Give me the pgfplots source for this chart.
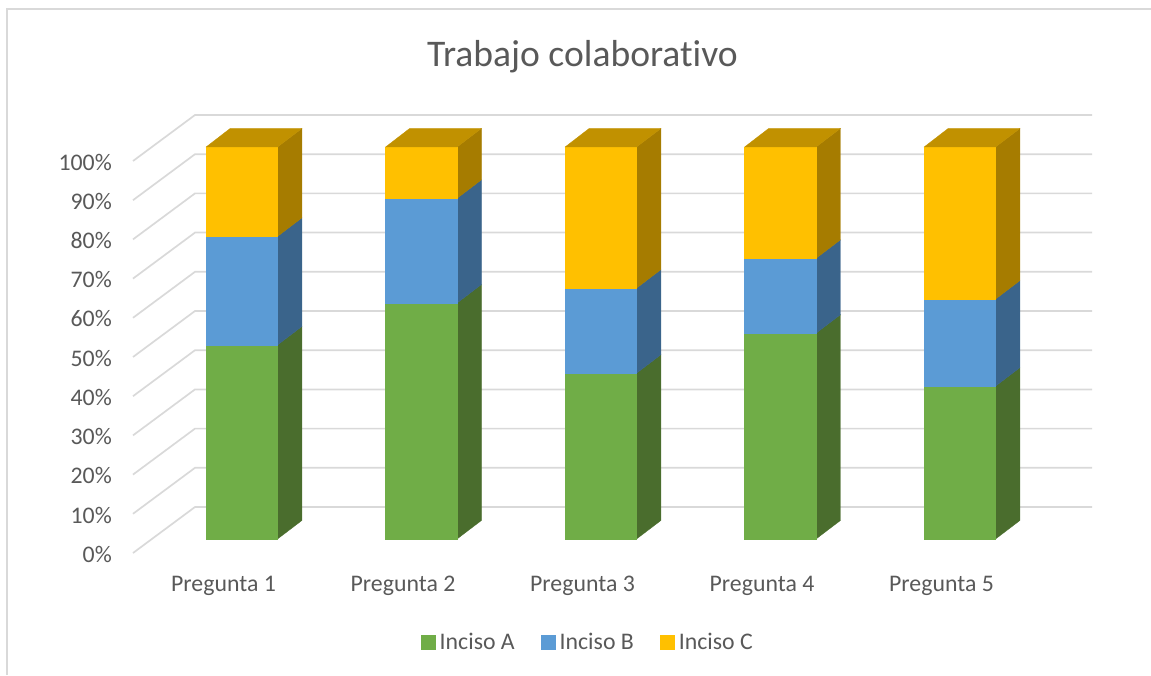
\documentclass[border=0pt]{standalone}
\usepackage{pgfplots}
\pgfplotsset{compat=1.18}
\usepackage{fontspec}
\setmainfont[Ligatures=CommonOff]{Carlito}
\definecolor{txt}{HTML}{595959}
\definecolor{gridc}{HTML}{D9D9D9}
\definecolor{gA}{HTML}{70AD47}\definecolor{gAs}{HTML}{4A6D2D}
\definecolor{bB}{HTML}{5B9BD5}\definecolor{bBs}{HTML}{3A648B}
\definecolor{yC}{HTML}{FFC000}\definecolor{yCs}{HTML}{A67C00}\definecolor{yCt}{HTML}{C19100}
% one stacked segment: centre, lower, upper, front colour, side colour
\newcommand{\segment}[5]{%
  \pgfmathsetmacro{\xl}{#1-0.2}\pgfmathsetmacro{\xr}{#1+0.198}\pgfmathsetmacro{\xb}{#1+0.3337}%
  \pgfmathsetmacro{\ylb}{#2+4.72}\pgfmathsetmacro{\yhb}{#3+4.72}%
  \addplot[fill=#5,draw=#5,line width=0.3pt,forget plot] coordinates {(\xr,#2) (\xb,\ylb) (\xb,\yhb) (\xr,#3)} -- cycle;
  \addplot[fill=#4,draw=#4,line width=0.3pt,forget plot] coordinates {(\xl,#2) (\xr,#2) (\xr,#3) (\xl,#3)} -- cycle;
}
\newcommand{\topface}[1]{%
  \pgfmathsetmacro{\xl}{#1-0.2}\pgfmathsetmacro{\xr}{#1+0.198}\pgfmathsetmacro{\xb}{#1+0.3337}\pgfmathsetmacro{\xa}{#1-0.0663}%
  \addplot[fill=yCt,draw=yCt,line width=0.3pt,forget plot] coordinates {(\xl,100) (\xr,100) (\xb,104.72) (\xa,104.72)} -- cycle;
}
\newcommand{\wall}[2]{\addplot[gridc,line width=1.7pt,forget plot] coordinates {(0.3928,#1) (0.7382,#2) (5.7354,#2)};}
\begin{document}
\begin{tikzpicture}[x=1pt,y=1pt]
\useasboundingbox (0,0) rectangle (1151,675);
\draw[gridc,line width=1.7pt] (7,0) -- (7,666) -- (1151,666);
\begin{axis}[
  at={(133pt,136pt)},anchor=south west,
  scale only axis,width=959pt,height=392pt,
  xmin=0.3928,xmax=5.7354,ymin=0,ymax=100,clip=false,
  axis line style={draw=none},major tick length=0pt,
  xtick={1,2,3,4,5},
  xticklabels={Pregunta 1,Pregunta 2,Pregunta 3,Pregunta 4,Pregunta 5},
  ytick={0,10,...,100},
  yticklabels={0\%,10\%,20\%,30\%,40\%,50\%,60\%,70\%,80\%,90\%,100\%},
  tick label style={font=\fontsize{23.8}{28}\selectfont,text=txt,inner sep=0pt},
  xticklabel style={anchor=base,xshift=-18.5pt,yshift=-52.7pt},
  yticklabel style={anchor=base east,xshift=-21pt,yshift=-23.2pt},
  title={Trabajo colaborativo},
  title style={at={(0.4687,1.2372)},anchor=center,yshift=-9pt,font=\fontsize{37.6}{44}\selectfont,text=txt},
  legend style={at={(0.4745,-0.2628)},anchor=center,draw=none,fill=none,
    font=\fontsize{23.8}{28}\selectfont,text=txt,legend columns=3,
    /tikz/every odd column/.append style={column sep=2pt},
    /tikz/every even column/.append style={column sep=24.5pt}},
  legend image code/.code={\fill[#1] (0pt,-7pt) rectangle (14pt,7pt);},
]
\wall{-3.571}{8.163}\wall{6.429}{18.163}\wall{16.429}{28.163}\wall{26.429}{38.163}
\wall{36.429}{48.163}\wall{46.429}{58.163}\wall{56.429}{68.163}\wall{66.429}{78.163}
\wall{76.429}{88.163}\wall{86.429}{98.163}\wall{96.429}{108.163}
\addlegendimage{gA}\addlegendentry{Inciso A}
\addlegendimage{bB}\addlegendentry{Inciso B}
\addlegendimage{yC}\addlegendentry{Inciso C}
% Pregunta 1
\segment{1}{0}{49.5}{gA}{gAs}\segment{1}{49.5}{77.2}{bB}{bBs}\segment{1}{77.2}{100}{yC}{yCs}\topface{1}
% Pregunta 2
\segment{2}{0}{60.2}{gA}{gAs}\segment{2}{60.2}{86.9}{bB}{bBs}\segment{2}{86.9}{100}{yC}{yCs}\topface{2}
% Pregunta 3
\segment{3}{0}{42.3}{gA}{gAs}\segment{3}{42.3}{64.0}{bB}{bBs}\segment{3}{64.0}{100}{yC}{yCs}\topface{3}
% Pregunta 4
\segment{4}{0}{52.5}{gA}{gAs}\segment{4}{52.5}{71.6}{bB}{bBs}\segment{4}{71.6}{100}{yC}{yCs}\topface{4}
% Pregunta 5
\segment{5}{0}{39.0}{gA}{gAs}\segment{5}{39.0}{61.2}{bB}{bBs}\segment{5}{61.2}{100}{yC}{yCs}\topface{5}
\end{axis}
\end{tikzpicture}
\end{document}
